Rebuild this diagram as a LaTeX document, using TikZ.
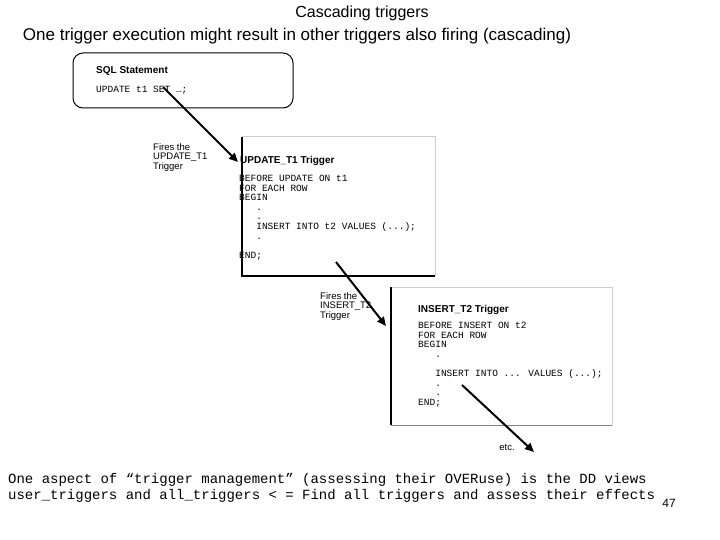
\documentclass[tikz,border=0pt]{standalone}
\usepackage{fontspec}
\setmainfont{Liberation Sans}
\newfontfamily\cmono{Liberation Mono}
\usetikzlibrary{arrows.meta}
\begin{document}
\begin{tikzpicture}[x=1pt,y=-1pt,
  lbl/.style={inner sep=0pt,anchor=north west,align=left,font=\fontsize{9.5}{9.5}\selectfont},
  hdr/.style={inner sep=0pt,anchor=west,font=\fontsize{10}{11}\selectfont\bfseries},
  code/.style={inner sep=0pt,anchor=north west,align=left,font=\cmono\fontsize{9.5}{9.6}\selectfont},
  arr/.style={line width=2pt,-{Triangle[length=9pt,width=8pt]}}]
\useasboundingbox (0,0) rectangle (720,540);
\node (title) at (362,13) {\fontsize{16}{18}\selectfont Cascading triggers};
\node (sub) at (297,36) {\fontsize{17}{19}\selectfont One trigger execution might result in other triggers also firing (cascading)};
% box 1
\draw[line width=1pt,rounded corners=10pt] (73,53) rectangle (293,108);
\node[hdr] (h1) at (96,71) {SQL Statement};
\node[code] (c1) at (96,86) {UPDATE t1 SET …;};
% box T1
\draw[draw=gray!40,line width=1pt] (242,137) -- (435,137) -- (435,276);
\draw[line width=1.2pt] (242,137) -- (242,276) -- (435,276);
\node[lbl] (f1) at (153,143) {Fires the\\UPDATE\_T1\\Trigger};
\node[hdr] (h2) at (240,161) {UPDATE\_T1 Trigger};
\node[code] (c2) at (239,175) {BEFORE UPDATE ON t1\\FOR EACH ROW\\BEGIN\\\ \ \ .\\\ \ \ .\\\ \ \ INSERT INTO t2 VALUES (...);\\\ \ \ .\\\\END;};
% box T2
\draw[draw=gray!40,line width=1pt] (391,287) -- (612,287) -- (612,425);
\draw[draw=gray,line width=1pt] (391,425) -- (612,425);
\draw[line width=1.2pt] (391,287) -- (391,425);
\node[lbl] (f2) at (320,292) {Fires the\\INSERT\_T2\\Trigger};
\node[hdr] (h3) at (418,310) {INSERT\_T2 Trigger};
\node[code] (c3) at (418,322) {BEFORE INSERT ON t2\\FOR EACH ROW\\BEGIN\\\ \ \ .\\\\\ \ \ INSERT INTO ... VALUES (...);\\\ \ \ .\\\ \ \ .\\END;};
\node[lbl,anchor=center] (etc) at (507,447) {etc.};
\coordinate (a1s) at (163,87); \coordinate (a1e) at (238,162);
\coordinate (a2s) at (336,262); \coordinate (a2e) at (386,326);
\coordinate (a3s) at (462,385); \coordinate (a3e) at (534,452);
\draw[arr] (a1s) -- (a1e);
\draw[arr] (a2s) -- (a2e);
\draw[arr] (a3s) -- (a3e);
\node[inner sep=0pt,anchor=west,align=left,font=\cmono\fontsize{14}{16}\selectfont] (bot) at (8,488) {One aspect of “trigger management” (assessing their OVERuse) is the DD views\\user\_triggers and all\_triggers < = Find all triggers and assess their effects};
\node[font=\fontsize{12}{14}\selectfont] (num) at (669,503) {47};
\end{tikzpicture}
\end{document}
